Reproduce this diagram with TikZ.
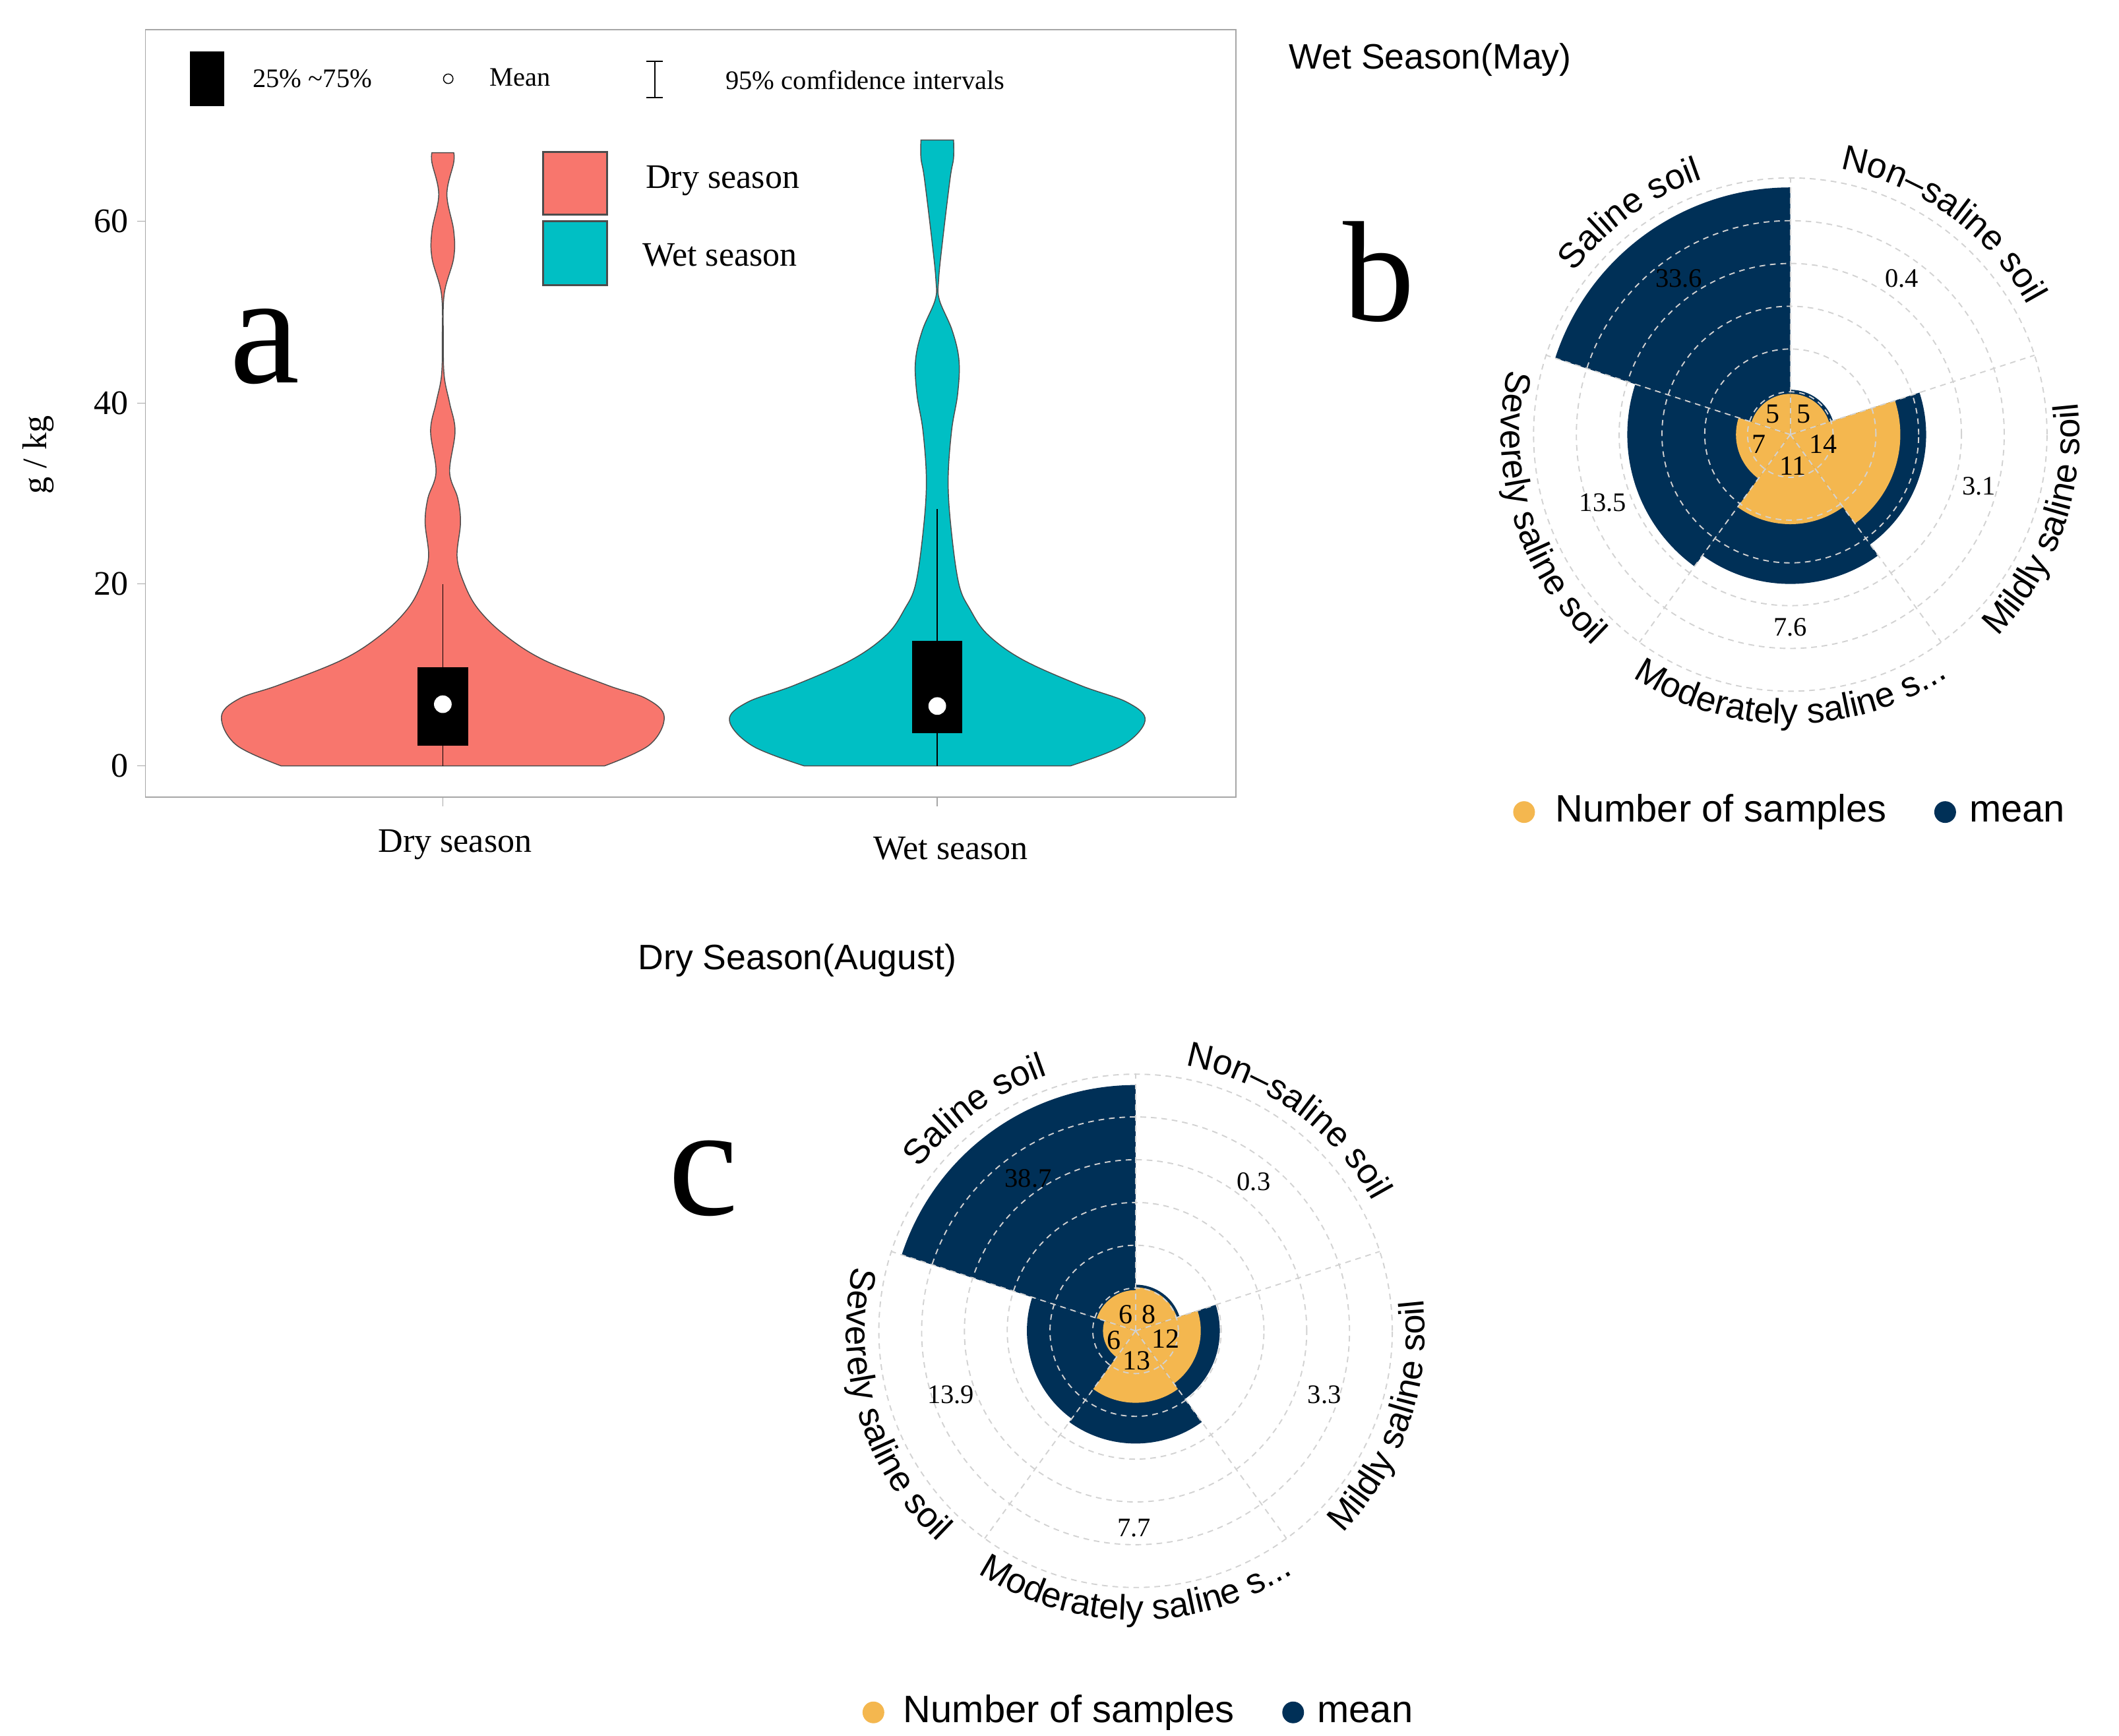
\documentclass[tikz,border=0pt]{standalone}
\usepackage{fontspec}
\setmainfont{Liberation Serif}
\setsansfont{Liberation Sans}
\usetikzlibrary{decorations.text}
\definecolor{dryc}{HTML}{F8766D}
\definecolor{wetc}{HTML}{00BFC4}
\definecolor{navy}{HTML}{003057}
\definecolor{gold}{HTML}{F4B74F}
\newcommand{\fs}[1]{\fontsize{#1}{#1}\selectfont}
\tikzset{
 ser/.style={font=\fs{36}},
 small/.style={font=\fs{28}},
 tit/.style={font=\sffamily\fs{37}},
 leg/.style={font=\sffamily\fs{40}},
 big/.style={font=\fs{165}},
 grid/.style={gray!35,dashed,line width=1.3pt,dash pattern=on 6pt off 5pt},
 violin/.style={draw=black!70,line width=1pt},
 curvlab/.style={decorate,decoration={text along path,text align=center,text={|\sffamily\fs{37}|#1}}}
}
\newcommand{\sector}[3]{\fill[#3] (0,0) -- (#1:#2) arc[start angle=#1,end angle=#1+72,radius=#2] -- cycle;}
\newcommand{\polar}[6]{%
 \foreach \a/\r in {#3}{\sector{\a}{\r}{navy}}
 \foreach \a/\r in {#2}{\sector{\a}{\r}{gold}}
 \foreach \r in {31.5,63,94.5,126,157.5,189}{\draw[grid] (0,0) circle[radius=\r];}
 \foreach \a in {90,18,-54,-126,162}{\draw[grid] (0,0) -- (\a:189);}
 \foreach \p/\t [count=\i] in {#4}{\node[small,font=\fs{29}] (#1s\i) at (\p) {\t};}
 \foreach \p/\t [count=\i] in {#5}{\node[small] (#1v\i) at (\p) {\t};}
 \path[curvlab={Saline soil}] (166:199) arc[start angle=166,end angle=86,radius=199];
 \path[curvlab={Non–saline soil}] (104:199) arc[start angle=104,end angle=4,radius=199];
 \path[curvlab={Mildly saline soil}] (-80:213) arc[start angle=-80,end angle=42,radius=213];
 \path[curvlab={Moderately saline s...}] (-160:213) arc[start angle=-160,end angle=-20,radius=213];
 \path[curvlab={Severely saline soil}] (134:213) arc[start angle=134,end angle=260,radius=213];
 #6}
\begin{document}
\begin{tikzpicture}[x=0.05cm,y=0.05cm]
\useasboundingbox[fill=white] (0,0) rectangle (1560,-1278);
% ---------- panel a ----------
\draw[gray!70,line width=1.2pt] (107,-22) rectangle (910,-587);
\foreach \v/\yy in {0/-564,20/-430,40/-297,60/-163}{
 \draw[gray!70,line width=1pt] (101,\yy) -- (107,\yy);
 \node[ser,anchor=east] (yt\v) at (97,\yy) {\v};}
\foreach \xx in {326,690}{\draw[gray!70,line width=1pt] (\xx,-587) -- (\xx,-594);}
\node[ser,rotate=90] (ylab) at (28,-335) {g / kg};
\node[ser] (xdry) at (335,-622) {Dry season};
\node[ser] (xwet) at (700,-625) {Wet season};
\node[big] (la) at (195,-255) {a};
% top legend
\fill[black] (140,-38) rectangle (165,-78);
\node[small] (l1) at (230,-58) {25\% \textasciitilde75\%};
\draw[black,line width=1pt] (330,-58) circle[radius=3.5];
\node[small] (l2) at (383,-57) {Mean};
\draw[black,line width=1.2pt] (482,-45) -- (482,-72) (476,-45) -- (488,-45) (476,-72) -- (488,-72);
\node[small] (l3) at (637,-59) {95\% comfidence intervals};
% colour legend
\filldraw[fill=dryc,draw=black!70,line width=2pt] (400,-112) rectangle (447,-158);
\filldraw[fill=wetc,draw=black!70,line width=2pt] (400,-163) rectangle (447,-210);
\node[ser] (ld) at (532,-133) {Dry season};
\node[ser] (lw) at (530,-188) {Wet season};
% violins
\begin{scope}[shift={(326,-564)},yscale=6.68]
\filldraw[violin,fill=dryc] (-119,0) -- (119,0) -- plot[smooth,tension=0.6] coordinates {(119,0) (152,2.3) (163,5.4) (150,7.4) (121,8.9) (74,11.7) (45,14.5) (26,17.3) (16,20) (10.5,23) (13,26.8) (11,29.5) (5,32.4) (9,36.9) (5,40) (1,43) (0.4,47) (1,52) (8,56) (8,59) (3,63) (8,66.5) (8,67.6)}
 -- plot[smooth,tension=0.6] coordinates {(-8,67.6) (-8,66.5) (-3,63) (-8,59) (-8,56) (-1,52) (-0.4,47) (-1,43) (-5,40) (-9,36.9) (-5,32.4) (-11,29.5) (-13,26.8) (-10.5,23) (-16,20) (-26,17.3) (-45,14.5) (-74,11.7) (-121,8.9) (-150,7.4) (-163,5.4) (-152,2.3) (-119,0)} -- cycle;
\draw[black,line width=1pt] (0,0) -- (0,20);
\fill[black] (-18.5,2.2) rectangle (18.5,10.9);
\node[circle,fill=white,inner sep=0,minimum size=0.65cm] (md) at (0,6.8) {};
\end{scope}
\begin{scope}[shift={(690,-564)},yscale=6.68]
\filldraw[violin,fill=wetc] (-98,0) -- (98,0) -- plot[smooth,tension=0.6] coordinates {(98,0) (136,2.2) (153,5) (140,7) (105,8.9) (63,11.7) (37,14.5) (24,17.3) (16,20) (10.5,25.7) (8,31.3) (10.5,36.9) (15,41) (16,44.7) (11,48) (1.5,51.4) (1,53.6) (4,58) (9.5,64.8) (12,67) (12,69)}
 -- plot[smooth,tension=0.6] coordinates {(-12,69) (-12,67) (-9.5,64.8) (-4,58) (-1,53.6) (-1.5,51.4) (-11,48) (-16,44.7) (-15,41) (-10.5,36.9) (-8,31.3) (-10.5,25.7) (-16,20) (-24,17.3) (-37,14.5) (-63,11.7) (-105,8.9) (-140,7) (-153,5) (-136,2.2) (-98,0)} -- cycle;
\draw[black,line width=1pt] (0,0) -- (0,28.3);
\fill[black] (-18.5,3.6) rectangle (18.5,13.8);
\node[circle,fill=white,inner sep=0,minimum size=0.65cm] (mw) at (0,6.6) {};
\end{scope}
% ---------- panel b ----------
\node[tit] (tb) at (1053,-44) {Wet Season(May)};
\node[big,font=\fs{150}] (lb) at (1015,-200) {b};
\begin{scope}[shift={(1318,-320)}]
\polar{b}{18/30,-54/81,-126/66,-198/40,90/30}{18/33,-54/100,-126/110,-198/120,90/182}%
 {{-13,15}/5,{10,15}/5,{-23,-7}/7,{24,-7}/14,{2,-23}/11}%
 {{82,115}/0.4,{139,-38}/3.1,{0,-142}/7.6,{-138,-50}/13.5,{-82,115}/33.6}{}
\end{scope}
\fill[gold] (1122,-598) circle[radius=8];
\node[leg] (nb1) at (1267,-598) {Number of samples};
\fill[navy] (1432,-598) circle[radius=8];
\node[leg] (nb2) at (1485,-598) {mean};
% ---------- panel c ----------
\node[tit] (tc) at (587,-707) {Dry Season(August)};
\node[big] (lc) at (518,-868) {c};
\begin{scope}[shift={(836,-980)}]
\polar{c}{18/32,-54/48,-126/53,-198/24,90/30}{18/34,-54/62,-126/83,-198/80,90/181}%
 {{-7,12}/6,{10,12}/8,{-16,-7}/6,{22,-6}/12,{1,-22}/13}%
 {{87,110}/0.3,{139,-47}/3.3,{-1,-145}/7.7,{-136,-47}/13.9,{-79,112}/38.7}{}
\end{scope}
\fill[gold] (643,-1261) circle[radius=8];
\node[leg] (nc1) at (787,-1261) {Number of samples};
\fill[navy] (952,-1261) circle[radius=8];
\node[leg] (nc2) at (1005,-1261) {mean};
\end{tikzpicture}
\end{document}
